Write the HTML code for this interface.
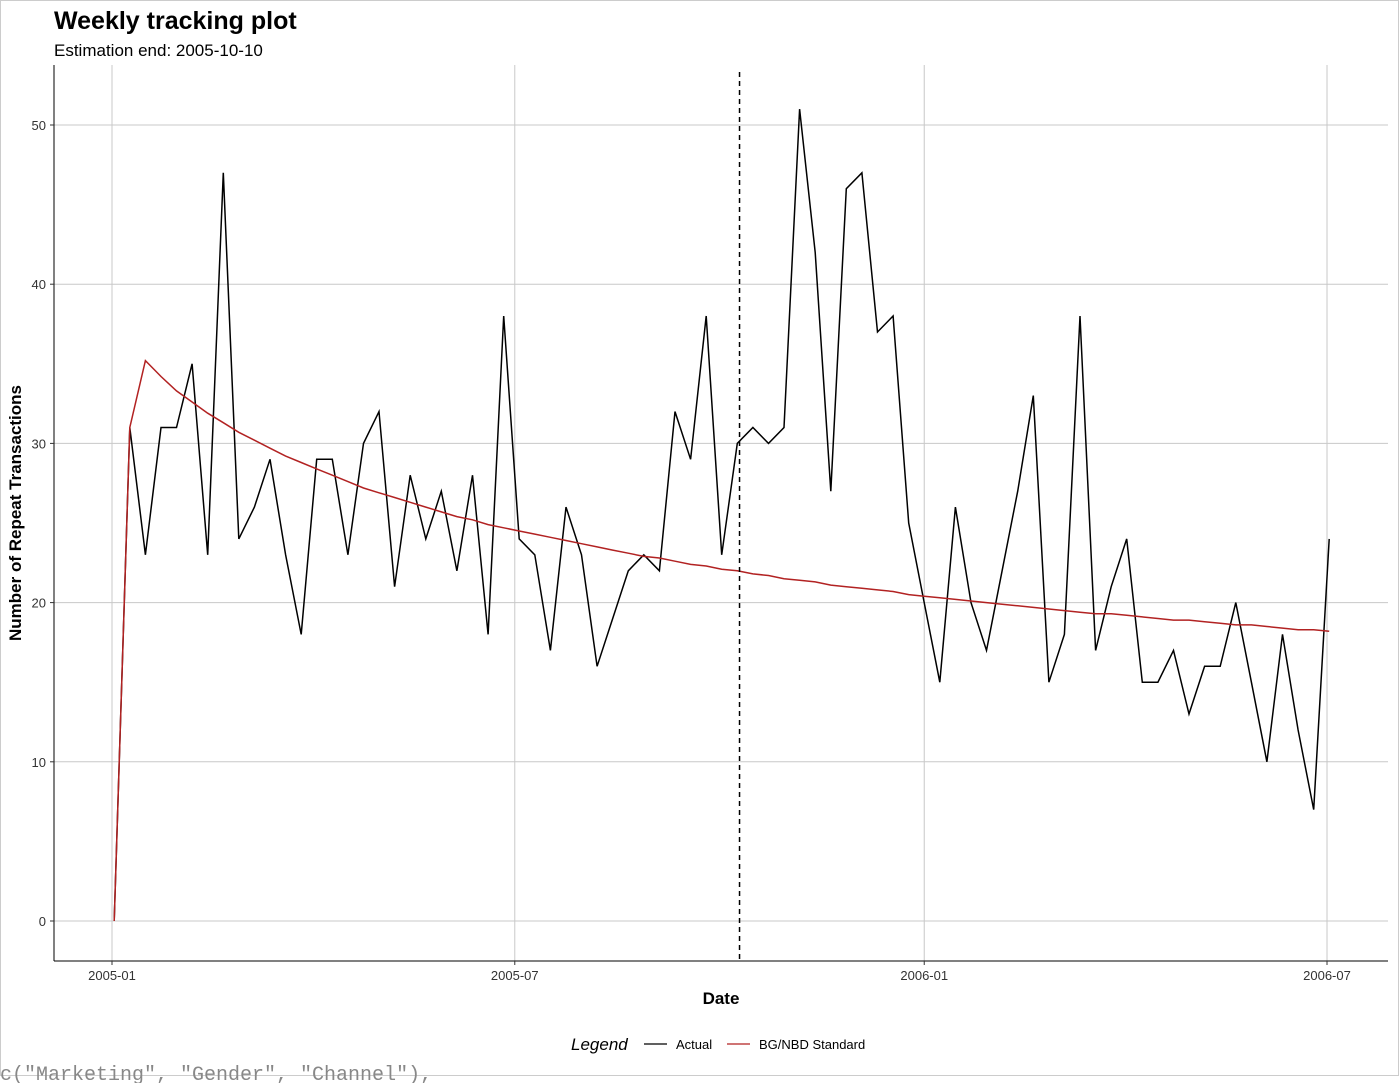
<!DOCTYPE html>
<html><head><meta charset="utf-8"><style>
body{margin:0;background:#fff;width:1400px;height:1083px;overflow:hidden;font-family:"Liberation Sans",sans-serif}
</style></head><body>
<svg width="1400" height="1083">
<rect x="0" y="0" width="1400" height="1083" fill="#fff"/>
<rect x="0.5" y="0.5" width="1398" height="1075" fill="none" stroke="#ccc"/>
<text x="54" y="29" font-size="25" font-weight="bold" fill="#000">Weekly tracking plot</text>
<text x="54" y="56" font-size="17" fill="#000">Estimation end: 2005-10-10</text>
<g id="grid"></g>
<g id="marks"></g>
<line x1="54" y1="65" x2="54" y2="961" stroke="#000"/>
<line x1="54" y1="961" x2="1388" y2="961" stroke="#000"/>
<g id="ticks"></g>
<text x="721" y="1004" font-size="17" font-weight="bold" text-anchor="middle">Date</text>
<text transform="translate(21,513) rotate(-90)" font-size="17" font-weight="bold" text-anchor="middle">Number of Repeat Transactions</text>
<g>
<text x="571" y="1050" font-size="17" font-style="italic">Legend</text>
<line x1="644" y1="1044" x2="667" y2="1044" stroke="#000" stroke-width="1.3"/>
<text x="676" y="1049" font-size="13">Actual</text>
<line x1="727" y1="1044" x2="750" y2="1044" stroke="#b22222" stroke-width="1.3"/>
<text x="759" y="1049" font-size="13">BG/NBD Standard</text>
</g>
<text x="0" y="1080" font-size="20" fill="#888" font-family="Liberation Mono,monospace">c("Marketing", "Gender", "Channel"),</text>
</svg>
<script>
const actual=[0,31,23,31,31,35,23,47,24,26,29,23,18,29,29,23,30,32,21,28,24,27,22,28,18,38,24,23,17,26,23,16,19,22,23,22,32,29,38,23,30,31,30,31,51,42,27,46,47,37,38,25,20,15,26,20,17,22,27,33,15,18,38,17,21,24,15,15,17,13,16,16,20,15,10,18,12,7,24];
const expected=[0,31.0,35.2,34.2,33.3,32.6,31.9,31.3,30.7,30.2,29.7,29.2,28.8,28.4,28.0,27.6,27.2,26.9,26.6,26.3,26.0,25.7,25.4,25.2,24.9,24.7,24.5,24.3,24.1,23.9,23.7,23.5,23.3,23.1,22.9,22.8,22.6,22.4,22.3,22.1,22.0,21.8,21.7,21.5,21.4,21.3,21.1,21.0,20.9,20.8,20.7,20.5,20.4,20.3,20.2,20.1,20.0,19.9,19.8,19.7,19.6,19.5,19.4,19.3,19.3,19.2,19.1,19.0,18.9,18.9,18.8,18.7,18.6,18.6,18.5,18.4,18.3,18.3,18.2];
const startDate="2005-01-02";
const estimationEnd="2005-10-10";
const yTicks=[0,10,20,30,40,50];
const xTickLabels=["2005-01","2005-07","2006-01","2006-07"];
const NS="http://www.w3.org/2000/svg";
const d0=Date.UTC(2005,0,1);
function days(s){const p=s.split("-").map(Number);return (Date.UTC(p[0],p[1]-1,p[2]||1)-d0)/86400000;}
const xs=d=>112+d*2.2253;
const ys=v=>921-v*15.92;
const grid=document.getElementById("grid"),marks=document.getElementById("marks"),ticks=document.getElementById("ticks");
function el(t,a,p){const e=document.createElementNS(NS,t);for(const k in a)e.setAttribute(k,a[k]);p.appendChild(e);return e;}
yTicks.forEach(v=>{
 const g=el("line",{x1:54,x2:1388,y1:ys(v),y2:ys(v),stroke:"#c8c8c8","stroke-width":1},grid);
 
 
 const tl=el("line",{x1:50,x2:54,y1:ys(v),y2:ys(v),stroke:"#333"},ticks);
 
 
 const t=el("text",{x:46,y:ys(v)+5,"font-size":13,"text-anchor":"end",fill:"#333"},ticks);
 t.textContent=v;
 
 
});
xTickLabels.forEach(s=>{
 const x=xs(days(s));
 const g=el("line",{x1:x,x2:x,y1:65,y2:961,stroke:"#c8c8c8"},grid);
 
 
 const tl=el("line",{x1:x,x2:x,y1:961,y2:965,stroke:"#333"},ticks);
 
 
 const t=el("text",{x:x,y:980,"font-size":13,"text-anchor":"middle",fill:"#333"},ticks);
 t.textContent=s;
 
 
});
const s0=days(startDate);
function pts(arr){return arr.map((v,i)=>xs(s0+7*i).toFixed(1)+","+ys(v).toFixed(1)).join(" ");}
const la=el("polyline",{points:pts(actual),fill:"none",stroke:"#000","stroke-width":1.5},marks);


const le=el("polyline",{points:pts(expected),fill:"none",stroke:"#b22222","stroke-width":1.5},marks);


const ex=xs(days(estimationEnd));
const vl=el("line",{x1:ex,x2:ex,y1:72,y2:961,stroke:"#000","stroke-width":1.5,"stroke-dasharray":"5,4"},marks);


</script>
</body></html>
